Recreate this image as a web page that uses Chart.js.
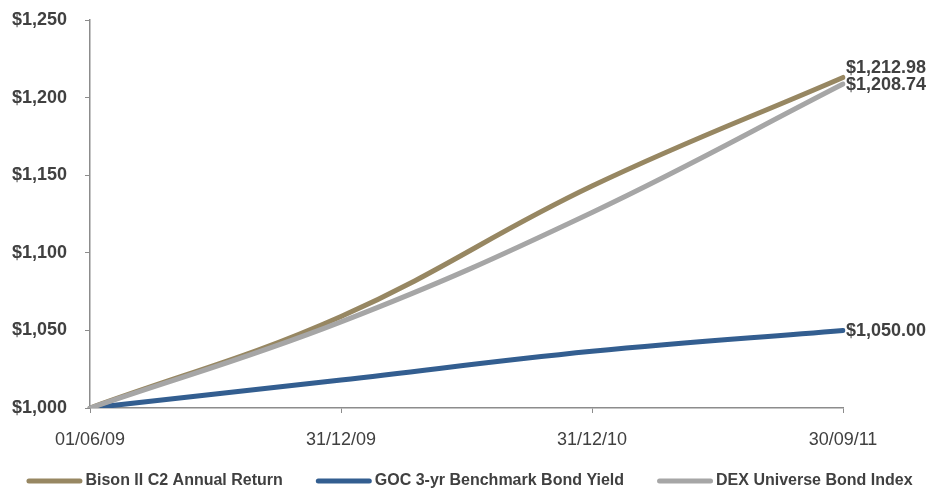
<!DOCTYPE html>
<html>
<head>
<meta charset="utf-8">
<script src="https://cdn.jsdelivr.net/npm/chart.js@4/dist/chart.umd.min.js"></script>
<style>
  html, body { margin: 0; padding: 0; background: #fff; }
  #wrap { width: 929px; height: 491px; }
</style>
</head>
<body>
<div id="wrap"><canvas id="bondChart"></canvas></div>
<script>
const dates = ['01/06/09', '31/12/09', '31/12/10', '30/09/11'];
const bisonValues = [1000, 1059, 1143, 1212.98];
const gocValues = [1000, 1018, 1036.5, 1050];
const dexValues = [1000, 1055.5, 1126, 1208.74];
const yTicks = [1000, 1050, 1100, 1150, 1200, 1250];

const textColor = '#404040';
const axisColor = '#8c8c8c';
const fontFamily = '"Liberation Sans", Arial, sans-serif';

function money(v, dp) {
    return '$' + v.toLocaleString('en-US', { minimumFractionDigits: dp, maximumFractionDigits: dp });
}

// end-of-line value labels
const endLabels = {
    id: 'endLabels',
    afterDatasetsDraw(chart) {
        const ctx = chart.ctx;
        const shifts = [-9, 1, 1];
        ctx.save();
        ctx.font = 'bold 18px ' + fontFamily;
        ctx.fillStyle = textColor;
        ctx.textAlign = 'left';
        ctx.textBaseline = 'middle';
        chart.data.datasets.forEach((ds, i) => {
            const pts = chart.getDatasetMeta(i).data;
            const last = pts[pts.length - 1];
            const val = ds.data[ds.data.length - 1];
            ctx.fillText(money(val, 2), last.x + 3, last.y + shifts[i]);
        });
        ctx.restore();
    }
};

// single-row legend along the bottom edge
const lineLegend = {
    id: 'lineLegend',
    afterDraw(chart) {
        const ctx = chart.ctx;
        const swatch = 56, gap = 3, spacing = 33;
        const y = 481;
        ctx.save();
        ctx.font = 'bold 16px ' + fontFamily;
        ctx.textBaseline = 'middle';
        ctx.textAlign = 'left';
        const items = chart.data.datasets.map(ds => ({
            text: ds.label,
            color: ds.borderColor,
            w: ctx.measureText(ds.label).width
        }));
        let total = items.reduce((s, it) => s + swatch + gap + it.w, 0) + spacing * (items.length - 1);
        let x = (chart.width - total) / 2 + 5;
        items.forEach(it => {
            ctx.strokeStyle = it.color;
            ctx.lineWidth = 5;
            ctx.lineCap = 'round';
            ctx.beginPath();
            ctx.moveTo(x + 2.5, y);
            ctx.lineTo(x + swatch - 2.5, y);
            ctx.stroke();
            ctx.fillStyle = textColor;
            ctx.fillText(it.text, x + swatch + gap, y);
            x += swatch + gap + it.w + spacing;
        });
        ctx.restore();
    }
};

function lineSet(label, data, color, order) {
    return {
        label: label,
        data: data,
        borderColor: color,
        backgroundColor: color,
        borderWidth: 5,
        borderCapStyle: 'round',
        pointRadius: 0,
        fill: false,
        tension: 0.4,
        order: order
    };
}

new Chart(document.getElementById('bondChart'), {
    type: 'line',
    data: {
        labels: dates,
        datasets: [
            lineSet('Bison II C2 Annual Return', bisonValues, '#978762', 1),
            lineSet('GOC 3-yr Benchmark Bond Yield', gocValues, '#335e90', 2),
            lineSet('DEX Universe Bond Index', dexValues, '#a6a6a6', 0)
        ]
    },
    options: {
        responsive: true,
        maintainAspectRatio: false,
        animation: false,
        layout: { padding: { top: 20, right: 0, left: 0, bottom: 36 } },
        plugins: {
            tooltip: { enabled: false },
            legend: { display: false }
        },
        scales: {
            x: {
                offset: false,
                grid: { drawOnChartArea: false, color: axisColor, tickLength: 5 },
                border: { color: axisColor, width: 1.5 },
                ticks: {
                    color: textColor,
                    padding: 16,
                    maxRotation: 0,
                    font: { family: fontFamily, size: 18 }
                },
                afterFit(scale) { scale.height = 47; }
            },
            y: {
                min: 1000,
                max: 1250,
                afterBuildTicks(scale) { scale.ticks = yTicks.map(v => ({ value: v })); },
                grid: { drawOnChartArea: false, color: axisColor, tickLength: 5 },
                border: { color: axisColor, width: 1.5 },
                ticks: {
                    color: textColor,
                    padding: 18,
                    font: { family: fontFamily, size: 18, weight: 'bold' },
                    callback: v => money(v, 0)
                },
                afterFit(scale) {
                    scale.width = 90;
                    scale.paddingTop = 0;
                    scale.paddingBottom = 0;
                }
            },
            // empty right-hand strip that leaves room for the end labels
            yRight: {
                position: 'right',
                display: true,
                min: 1000,
                max: 1250,
                grid: { display: false },
                border: { display: false },
                ticks: { display: false },
                afterFit(scale) {
                    scale.width = 86;
                    scale.paddingTop = 0;
                    scale.paddingBottom = 0;
                }
            }
        }
    },
    plugins: [endLabels, lineLegend]
});
</script>
</body>
</html>
